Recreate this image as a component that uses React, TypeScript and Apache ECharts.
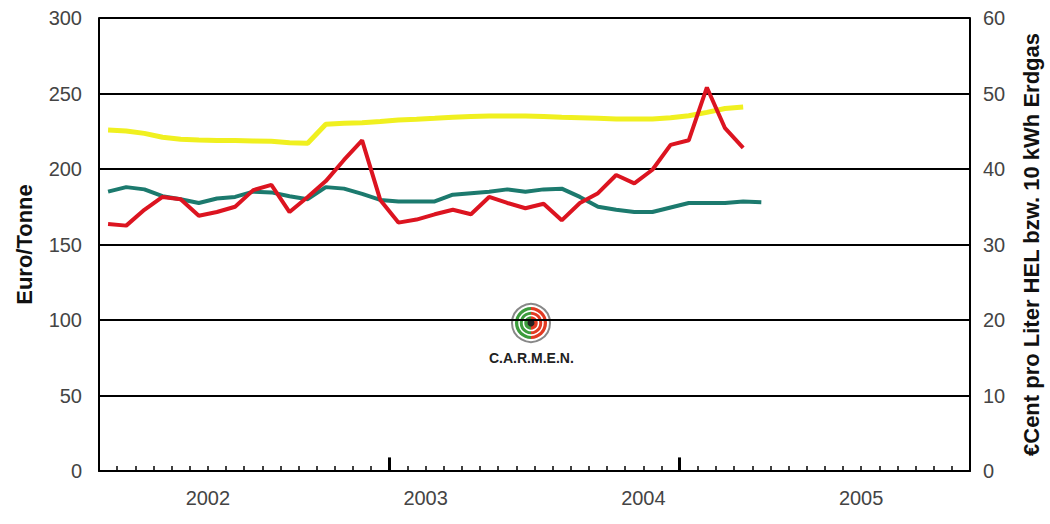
import React, { useEffect, useRef } from "react";
import * as echarts from "echarts";

// Monthly values, Jan 2002 onward (x = month index + 0.5, month centre)
const pelletsEuroPerTonne = [
  225.8, 225.2, 223.6, 221.0, 219.7, 219.2, 218.8, 218.8, 218.5, 218.3, 217.4, 217.0,
  229.6, 230.3, 230.7, 231.4, 232.5, 233.0, 233.6, 234.3, 234.7, 235.1, 235.1, 235.1,
  234.7, 234.3, 234.0, 233.6, 233.1, 233.1, 233.1, 234.0, 235.3, 237.5, 240.1, 241.0,
];
const heatingOilCent = [
  32.7, 32.5, 34.6, 36.3, 36.0, 33.8, 34.3, 35.0, 37.2, 37.9, 34.3, 36.3,
  38.4, 41.2, 43.8, 35.9, 32.9, 33.3, 34.0, 34.6, 34.0, 36.3, 35.5, 34.8,
  35.4, 33.2, 35.5, 36.8, 39.2, 38.1, 39.9, 43.2, 43.8, 50.8, 45.4, 42.8,
];
const naturalGasCent = [
  37.0, 37.6, 37.3, 36.4, 36.0, 35.5, 36.1, 36.3, 37.0, 36.9, 36.4, 36.0,
  37.6, 37.4, 36.7, 35.9, 35.7, 35.7, 35.7, 36.6, 36.8, 37.0, 37.3, 37.0,
  37.3, 37.4, 36.3, 35.0, 34.6, 34.3, 34.3, 34.9, 35.5, 35.5, 35.5, 35.7, 35.6,
];
const yearLabels = ["2002", "2003", "2004", "2005"];
const monthsTotal = 48;
const majorTickMonths = [16, 32];
const majorTickHeight = 9; // in Euro/Tonne units

const toPairs = (arr: number[]) => arr.map((v, i) => [i + 0.5, v]);

export default function App() {
  const ref = useRef<HTMLDivElement>(null);
  useEffect(() => {
    if (!ref.current) return;
    const chart = echarts.init(ref.current, null, { renderer: "svg" });
    const labelFont = {
      color: "#444",
      fontSize: 20,
      fontFamily: "'Liberation Sans', Arial, sans-serif",
    };
    const titleFont = {
      color: "#111",
      fontSize: 22,
      fontWeight: "bold",
      fontFamily: "'Liberation Sans', Arial, sans-serif",
    };
    chart.setOption({
      animation: false,
      backgroundColor: "#fff",
      grid: { left: 99, right: 75, top: 18, bottom: 53, containLabel: false },
      xAxis: {
        type: "value",
        min: 0,
        max: monthsTotal,
        interval: 1,
        axisLine: { show: true, lineStyle: { color: "#000", width: 2 } },
        axisTick: { show: true, inside: true, length: 5, lineStyle: { color: "#000", width: 1.5 } },
        splitLine: { show: false },
        axisLabel: {
          ...labelFont,
          margin: 17,
          formatter: (v: number) => (v % 12 === 6 ? yearLabels[(v - 6) / 12] : ""),
        },
      },
      yAxis: [
        {
          type: "value",
          min: 0,
          max: 300,
          interval: 50,
          name: "Euro/Tonne",
          nameLocation: "middle",
          nameRotate: 90,
          nameGap: 64,
          nameTextStyle: titleFont,
          axisLine: { show: true, lineStyle: { color: "#000", width: 2 } },
          axisTick: { show: false },
          splitLine: { show: true, lineStyle: { color: "#000", width: 2 } },
          axisLabel: { ...labelFont, margin: 17 },
        },
        {
          type: "value",
          min: 0,
          max: 60,
          interval: 10,
          position: "right",
          name: "€Cent pro Liter HEL bzw. 10 kWh Erdgas",
          nameLocation: "middle",
          nameRotate: 90,
          nameGap: 50,
          nameTextStyle: titleFont,
          axisLine: { show: true, lineStyle: { color: "#000", width: 2 } },
          axisTick: { show: false },
          splitLine: { show: false },
          axisLabel: { ...labelFont, margin: 13 },
        },
      ],
      series: [
        {
          name: "Pellets",
          type: "line",
          yAxisIndex: 0,
          data: toPairs(pelletsEuroPerTonne),
          showSymbol: false,
          lineStyle: { color: "#f0f020", width: 5 },
          z: 3,
          markLine: {
            silent: true,
            symbol: "none",
            label: { show: false },
            lineStyle: { color: "#000", width: 3, type: "solid" },
            data: majorTickMonths.map((m) => [
              { coord: [m, 0] },
              { coord: [m, majorTickHeight] },
            ]),
          },
        },
        {
          name: "Erdgas",
          type: "line",
          yAxisIndex: 1,
          data: toPairs(naturalGasCent),
          showSymbol: false,
          lineStyle: { color: "#1c7a6e", width: 4 },
          z: 4,
        },
        {
          name: "Heizöl",
          type: "line",
          yAxisIndex: 1,
          data: toPairs(heatingOilCent),
          showSymbol: false,
          lineStyle: { color: "#dc1420", width: 4 },
          z: 5,
        },
      ],
      graphic: [
        {
          type: "group",
          left: 511,
          top: 303,
          children: [
            { type: "circle", shape: { cx: 19, cy: 19, r: 19 }, style: { fill: "#fff", stroke: "#888", lineWidth: 2 } },
            { type: "sector", shape: { cx: 19, cy: 19, r: 16, startAngle: Math.PI / 2, endAngle: (3 * Math.PI) / 2 }, style: { fill: "#3c9c3c" } },
            { type: "sector", shape: { cx: 19, cy: 19, r: 16, startAngle: -Math.PI / 2, endAngle: Math.PI / 2 }, style: { fill: "#e23a22" } },
            { type: "circle", shape: { cx: 19, cy: 19, r: 12 }, style: { fill: "none", stroke: "#fff", lineWidth: 1.5 } },
            { type: "circle", shape: { cx: 19, cy: 19, r: 7.5 }, style: { fill: "none", stroke: "#fff", lineWidth: 1.5 } },
            { type: "circle", shape: { cx: 19, cy: 19, r: 3.5 }, style: { fill: "#222" } },
          ],
        },
        {
          type: "text",
          left: 489,
          top: 351,
          style: {
            text: "C.A.R.M.E.N.",
            fill: "#222",
            font: "bold 14px 'Liberation Sans', Arial, sans-serif",
          },
        },
      ],
    });
    return () => chart.dispose();
  }, []);
  return (
    <div
      ref={ref}
      style={{ position: "fixed", left: 0, top: 0, width: 1050, height: 524, background: "#fff" }}
    />
  );
}
